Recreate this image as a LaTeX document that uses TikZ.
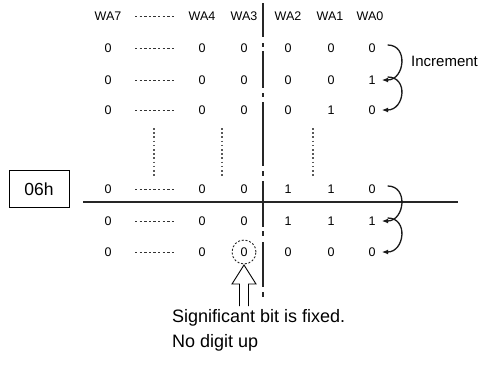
\documentclass[tikz,border=0pt]{standalone}
\usepackage{fontspec}
\setmainfont{Liberation Sans}
\usetikzlibrary{arrows.meta}
\begin{document}
\begin{tikzpicture}[x=1pt,y=-1pt,
  val/.style={inner sep=0pt,font=\fontsize{12.5}{14}\selectfont},
  hdots/.style={draw=black!80,line width=0.9pt,dash pattern=on 2.4pt off 2.2pt},
  vdots/.style={draw=black!65,line width=1.7pt,dash pattern=on 1.6pt off 2.6pt},
  mainline/.style={draw=black!85,line width=1.5pt},
  incarrow/.style={draw=black!90,line width=1.3pt,-{Latex[length=6.5pt,width=5pt]}},
  boxnode/.style={draw,line width=0.8pt,minimum width=60pt,minimum height=37pt,inner sep=0pt,font=\fontsize{17.5}{20}\selectfont},
  bigtext/.style={inner sep=0pt,anchor=west,font=\fontsize{18}{21}\selectfont}]
\useasboundingbox (0,0) rectangle (483,370);
% header
\node[val] (h7) at (108,16) {WA7};
\node[val] (h4) at (202,16) {WA4};
\node[val] (h3) at (244,16) {WA3};
\node[val] (h2) at (288,16) {WA2};
\node[val] (h1) at (330,16) {WA1};
\node[val] (h0) at (370,16) {WA0};
\coordinate (hd1) at (135,16); \coordinate (hd2) at (176,16);
\draw[hdots] (hd1) -- (hd2);
% rows
\foreach \r/\y/\a/\b/\c in {1/48/0/0/0,2/80/0/0/1,3/110/0/1/0,4/189/1/1/0,5/221/1/1/1,6/252/0/0/0}{
  \node[val] (r\r c7) at (108,\y) {0};
  \node[val] (r\r c4) at (202,\y) {0};
  \node[val] (r\r c3) at (244,\y) {0};
  \node[val] (r\r c2) at (288,\y) {\a};
  \node[val] (r\r c1) at (331,\y) {\b};
  \node[val] (r\r c0) at (372,\y) {\c};
  \coordinate (d\r a) at (135,\y); \coordinate (d\r b) at (176,\y);
  \draw[hdots] (d\r a) -- (d\r b);
}
% vertical dotted lines
\coordinate (v1a) at (154,128); \coordinate (v1b) at (154,176);
\coordinate (v2a) at (222,128); \coordinate (v2b) at (222,176);
\coordinate (v3a) at (313,128); \coordinate (v3b) at (313,176);
\draw[vdots] (v1a) -- (v1b);
\draw[vdots] (v2a) -- (v2b);
\draw[vdots] (v3a) -- (v3b);
% main vertical dash-dot line
\foreach \s/\e in {3/37,43/47,51/88,93/97,102/166,171/176,181/227,231/236,242/287,292/297}{
  \draw[mainline] (263,\s) -- (263,\e);
}
% horizontal line
\coordinate (hl1) at (83,202); \coordinate (hl2) at (458,202);
\draw[mainline] (hl1) -- (hl2);
% box
\node[boxnode] (box) at (39,189) {06h};
% increment arrows
\foreach \p/\q in {1/2,2/3,4/5,5/6}{
  \draw[incarrow] ([xshift=12pt,yshift=3pt]r\p c0.east) .. controls +(21,0) and +(23,0) .. ([xshift=6pt]r\q c0.east);
}
\node[inner sep=0pt,anchor=west,font=\fontsize{15}{17}\selectfont] (inc) at (411,61) {Increment};
% circle
\node[draw=black!85,circle,minimum size=24pt,inner sep=0pt,line width=0.9pt,dash pattern=on 2pt off 1.8pt] (circ) at (r6c3) {};
% hollow arrow
\coordinate (tip) at (244,265);
\draw[line width=0.9pt,line join=miter] (239.5,306) -- (239.5,284) -- (232,284) -- (tip) -- (256,284) -- (248.5,284) -- (248.5,306);
% bottom text
\node[bigtext] (t1) at (172,318) {Significant bit is fixed.};
\node[bigtext] (t2) at (172,343) {No digit up};
\end{tikzpicture}
\end{document}
